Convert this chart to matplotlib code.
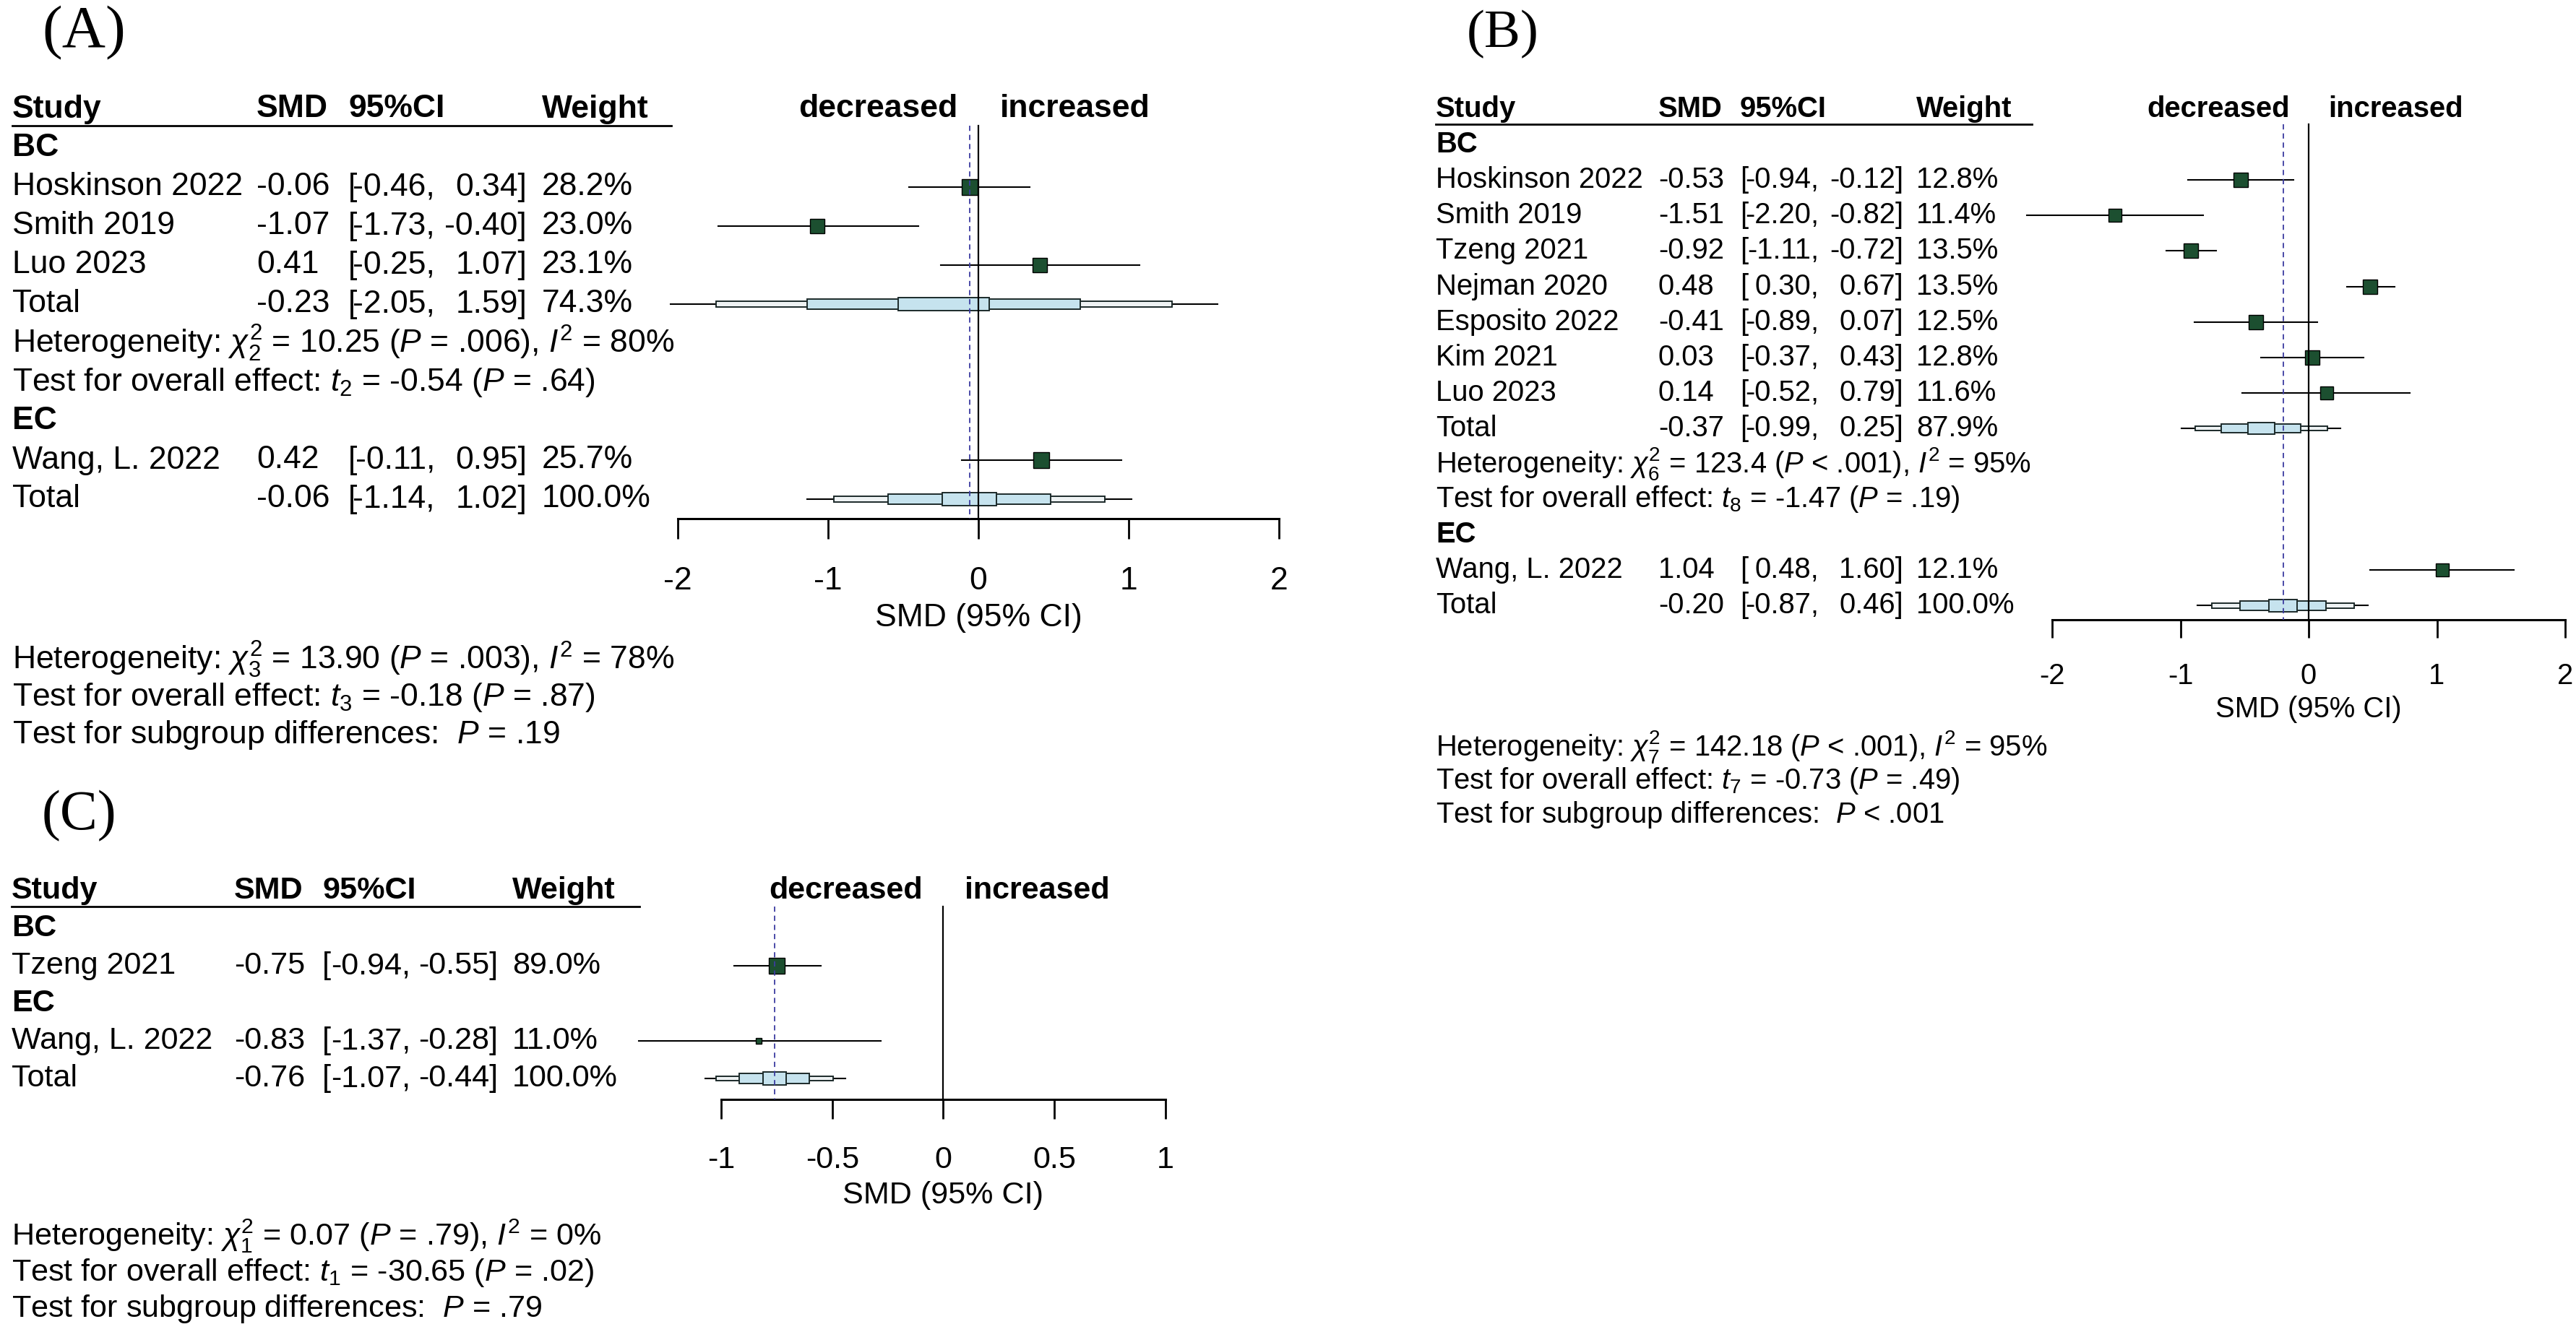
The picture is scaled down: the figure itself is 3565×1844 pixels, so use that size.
import numpy as np
import matplotlib
matplotlib.use("Agg")
import matplotlib.pyplot as plt
import matplotlib.transforms as mtransforms
from matplotlib.patches import Rectangle

plt.rcParams['font.family'] = ['Liberation Sans', 'DejaVu Sans']
plt.rcParams['mathtext.fontset'] = 'custom'
plt.rcParams['mathtext.rm'] = 'Liberation Sans'
plt.rcParams['mathtext.it'] = 'Liberation Sans:italic'
plt.rcParams['mathtext.bf'] = 'Liberation Sans:bold'
plt.rcParams['axes.unicode_minus'] = False

W, H = 3565, 1844

# ---------------- panel A ----------------
a_groups = ['BC', 'EC']
a_grp = [0, 0, 0, 1]
a_study = ['Hoskinson 2022', 'Smith 2019', 'Luo 2023', 'Wang, L. 2022']
a_smd = [-0.06, -1.07, 0.41, 0.42]
a_lo = [-0.46, -1.73, -0.25, -0.11]
a_hi = [0.34, -0.40, 1.07, 0.95]
a_w = [28.2, 23.0, 23.1, 25.7]
a_sub_smd = [-0.23, None]
a_sub_lo = [-2.05, None]
a_sub_hi = [1.59, None]
a_sub_w = [74.3, None]
a_sub_het = [r'Heterogeneity: $\chi^2_2$ = 10.25 ($P$ = .006), $I^2$ = 80%', None]
a_sub_test = [r'Test for overall effect: $t_2$ = -0.54 ($P$ = .64)', None]
a_tot = [-0.06, -1.14, 1.02, 100.0]
a_bottom = [r'Heterogeneity: $\chi^2_3$ = 13.90 ($P$ = .003), $I^2$ = 78%',
            r'Test for overall effect: $t_3$ = -0.18 ($P$ = .87)',
            r'Test for subgroup differences:  $P$ = .19']
a_ticks = [-2, -1, 0, 1, 2]
a_ticklabels = ['-2', '-1', '0', '1', '2']

# ---------------- panel B ----------------
b_groups = ['BC', 'EC']
b_grp = [0, 0, 0, 0, 0, 0, 0, 1]
b_study = ['Hoskinson 2022', 'Smith 2019', 'Tzeng 2021', 'Nejman 2020',
           'Esposito 2022', 'Kim 2021', 'Luo 2023', 'Wang, L. 2022']
b_smd = [-0.53, -1.51, -0.92, 0.48, -0.41, 0.03, 0.14, 1.04]
b_lo = [-0.94, -2.20, -1.11, 0.30, -0.89, -0.37, -0.52, 0.48]
b_hi = [-0.12, -0.82, -0.72, 0.67, 0.07, 0.43, 0.79, 1.60]
b_w = [12.8, 11.4, 13.5, 13.5, 12.5, 12.8, 11.6, 12.1]
b_sub_smd = [-0.37, None]
b_sub_lo = [-0.99, None]
b_sub_hi = [0.25, None]
b_sub_w = [87.9, None]
b_sub_het = [r'Heterogeneity: $\chi^2_6$ = 123.4 ($P$ < .001), $I^2$ = 95%', None]
b_sub_test = [r'Test for overall effect: $t_8$ = -1.47 ($P$ = .19)', None]
b_tot = [-0.20, -0.87, 0.46, 100.0]
b_bottom = [r'Heterogeneity: $\chi^2_7$ = 142.18 ($P$ < .001), $I^2$ = 95%',
            r'Test for overall effect: $t_7$ = -0.73 ($P$ = .49)',
            r'Test for subgroup differences:  $P$ < .001']
b_ticks = [-2, -1, 0, 1, 2]
b_ticklabels = ['-2', '-1', '0', '1', '2']

# ---------------- panel C ----------------
c_groups = ['BC', 'EC']
c_grp = [0, 1]
c_study = ['Tzeng 2021', 'Wang, L. 2022']
c_smd = [-0.75, -0.83]
c_lo = [-0.94, -1.37]
c_hi = [-0.55, -0.28]
c_w = [89.0, 11.0]
c_sub_smd = [None, None]
c_sub_lo = [None, None]
c_sub_hi = [None, None]
c_sub_w = [None, None]
c_sub_het = [None, None]
c_sub_test = [None, None]
c_tot = [-0.76, -1.07, -0.44, 100.0]
c_bottom = [r'Heterogeneity: $\chi^2_1$ = 0.07 ($P$ = .79), $I^2$ = 0%',
            r'Test for overall effect: $t_1$ = -30.65 ($P$ = .02)',
            r'Test for subgroup differences:  $P$ = .79']
c_ticks = [-1, -0.5, 0, 0.5, 1]
c_ticklabels = ['-1', '-0.5', '0', '0.5', '1']

SQ_COL = '#1c4f30'
BOX_FILL = '#c6e3ee'
BOX_OUT = '#eef2f3'
EDGE = '#1c2a2a'
DASH_COL = '#3c3ca0'


def fmt(v):
    return '%.2f' % v


def draw_panel(fig, lay, label, groups, grp, study, smd, lo, hi, w,
               sub_smd, sub_lo, sub_hi, sub_w, sub_het, sub_test, tot,
               bottom, ticks, ticklabels):
    s = lay['s']
    fs = 32 * s
    top, rowh = lay['top'], lay['rowh']

    # row layout
    rows = []
    r = 1
    for g, gname in enumerate(groups):
        rows.append(('group', gname, r))
        r += 1
        for i in range(len(study)):
            if grp[i] == g:
                rows.append(('study', i, r))
                r += 1
        if sub_smd[g] is not None:
            rows.append(('total', (sub_smd[g], sub_lo[g], sub_hi[g], sub_w[g]), r))
            rows.append(('text', sub_het[g], r + 1))
            rows.append(('text', sub_test[g], r + 2))
            r += 3
    rows.append(('total', tuple(tot), r))
    last = r

    axis_px = top + last * rowh + lay['axis_gap']
    x0, x1 = lay['x0'], lay['x1']
    ax = fig.add_axes([x0 / W, 1 - axis_px / H, (x1 - x0) / W,
                       (axis_px - (top - rowh)) / H])
    ax.set_xlim(ticks[0], ticks[-1])
    ybot = (axis_px - top) / rowh
    ax.set_ylim(ybot, -1)
    for sp in ['top', 'right', 'left']:
        ax.spines[sp].set_visible(False)
    ax.spines['bottom'].set_linewidth(2.2)
    ax.set_yticks([])
    ax.set_xticks(ticks)
    ax.set_xticklabels(ticklabels)
    ax.tick_params(axis='x', direction='out', length=28 * s * 0.72, width=2.0,
                   pad=27 * s, labelsize=fs)
    ax.patch.set_alpha(0)

    tr = mtransforms.blended_transform_factory(fig.transFigure, ax.transData)
    X = lambda px: px / W

    def row_of(px):
        return (px - top) / rowh

    # header
    hdr_kw = dict(transform=tr, fontsize=fs, fontweight='bold', va='center')
    ax.text(X(lay['study']), 0, 'Study', **hdr_kw)
    ax.text(X(lay['smd']), 0, 'SMD', **hdr_kw)
    ax.text(X(lay['lb']), 0, '95%CI', **hdr_kw)
    ax.text(X(lay['wt']), 0, 'Weight', **hdr_kw)
    hline = 0.43
    ax.plot([X(lay['study']), X(lay['line_end'])], [hline, hline], transform=tr,
            color='black', lw=2.0, clip_on=False)

    # decreased / increased
    zero_px = x0 + (0 - ticks[0]) / (ticks[-1] - ticks[0]) * (x1 - x0)
    ax.text(X(zero_px - 29 * s), 0, 'decreased', transform=tr, fontsize=fs,
            fontweight='bold', va='center', ha='right')
    ax.text(X(zero_px + 30 * s), 0, 'increased', transform=tr, fontsize=fs,
            fontweight='bold', va='center', ha='left')

    # reference lines
    ax.plot([0, 0], [hline, ybot], color='black', lw=1.6, zorder=5, clip_on=False)
    ax.plot([tot[0], tot[0]], [hline, ybot], color=DASH_COL, lw=1.3,
            ls=(0, (4, 3)), zorder=5, clip_on=False)

    wmax = max(w)
    txt_kw = dict(transform=tr, fontsize=fs, va='center')

    def values(y, m, l, h, wt):
        ax.text(X(lay['smd']), y, fmt(m), **txt_kw)
        ax.text(X(lay['lb']), y, '[', **txt_kw)
        ax.text(X(lay['lo_r']), y, fmt(l) + ',', ha='right', **txt_kw)
        ax.text(X(lay['hi_r']), y, fmt(h) + ']', ha='right', **txt_kw)
        ax.text(X(lay['wt']), y, '%.1f%%' % wt, **txt_kw)

    for kind, item, y in rows:
        if kind == 'group':
            ax.text(X(lay['study']), y, item, fontweight='bold', **txt_kw)
        elif kind == 'study':
            i = item
            ax.text(X(lay['study']), y, study[i], **txt_kw)
            values(y, smd[i], lo[i], hi[i], w[i])
            ax.plot([lo[i], hi[i]], [y, y], color='black', lw=1.5, zorder=2,
                    clip_on=False)
            side = 22 * s * np.sqrt(w[i] / wmax) * 0.72
            ax.plot([smd[i]], [y], marker='s', ms=side, mfc=SQ_COL, mec='black',
                    mew=1.0, ls='none', zorder=3, clip_on=False)
        elif kind == 'total':
            m, l, h, wt = item
            ax.text(X(lay['study']), y, 'Total', **txt_kw)
            values(y, m, l, h, wt)
            ax.plot([l, h], [y, y], color='black', lw=1.5, zorder=2, clip_on=False)
            half = (h - l) / 2
            for frac, hh, fc in [(5 / 6, 0.065, BOX_OUT), (0.5, 0.13, BOX_FILL),
                                 (1 / 6, 0.167, BOX_FILL)]:
                ax.add_patch(Rectangle((m - frac * half, y - hh), 2 * frac * half,
                                       2 * hh, facecolor=fc, edgecolor=EDGE,
                                       lw=1.4, zorder=3, clip_on=False))
        else:
            ax.text(X(lay['study']), y, item, **txt_kw)

    # x label
    ax.text((ticks[0] + ticks[-1]) / 2, row_of(axis_px + 137 * s), 'SMD (95% CI)',
            fontsize=fs, ha='center', va='center')

    # overall statistics below
    for k, line in enumerate(bottom):
        ax.text(X(lay['study']), row_of(axis_px + 195 * s + k * 52 * s), line,
                **txt_kw)

    # panel label
    fig.text(lay['lab_x'] / W, 1 - lay['lab_y'] / H, label, fontsize=lay['lab_fs'],
             family=['Liberation Serif', 'DejaVu Serif'], ha='left', va='top')
    return ax


fig = plt.figure(figsize=(W / 100, H / 100), dpi=100)

lay_a = dict(s=1.0, top=151, rowh=54, axis_gap=27, x0=938, x1=1770,
             study=17, smd=355, lb=482, lo_r=602, hi_r=729, wt=750, line_end=929,
             lab_x=58, lab_y=8, lab_fs=60)
lay_b = dict(s=0.9, top=151, rowh=49.1, axis_gap=20, x0=2840, x1=3550,
             study=1987, smd=2295, lb=2408, lo_r=2517, hi_r=2634, wt=2652,
             line_end=2812, lab_x=2030, lab_y=14, lab_fs=54)
lay_c = dict(s=0.97, top=1233, rowh=52, axis_gap=29, x0=998, x1=1613,
             study=16, smd=324, lb=446, lo_r=568, hi_r=689, wt=709, line_end=885,
             lab_x=58, lab_y=1094, lab_fs=56)

draw_panel(fig, lay_a, '(A)', a_groups, a_grp, a_study, a_smd, a_lo, a_hi, a_w,
           a_sub_smd, a_sub_lo, a_sub_hi, a_sub_w, a_sub_het, a_sub_test, a_tot,
           a_bottom, a_ticks, a_ticklabels)
draw_panel(fig, lay_b, '(B)', b_groups, b_grp, b_study, b_smd, b_lo, b_hi, b_w,
           b_sub_smd, b_sub_lo, b_sub_hi, b_sub_w, b_sub_het, b_sub_test, b_tot,
           b_bottom, b_ticks, b_ticklabels)
draw_panel(fig, lay_c, '(C)', c_groups, c_grp, c_study, c_smd, c_lo, c_hi, c_w,
           c_sub_smd, c_sub_lo, c_sub_hi, c_sub_w, c_sub_het, c_sub_test, c_tot,
           c_bottom, c_ticks, c_ticklabels)

fig.savefig('out.png', dpi=100)
